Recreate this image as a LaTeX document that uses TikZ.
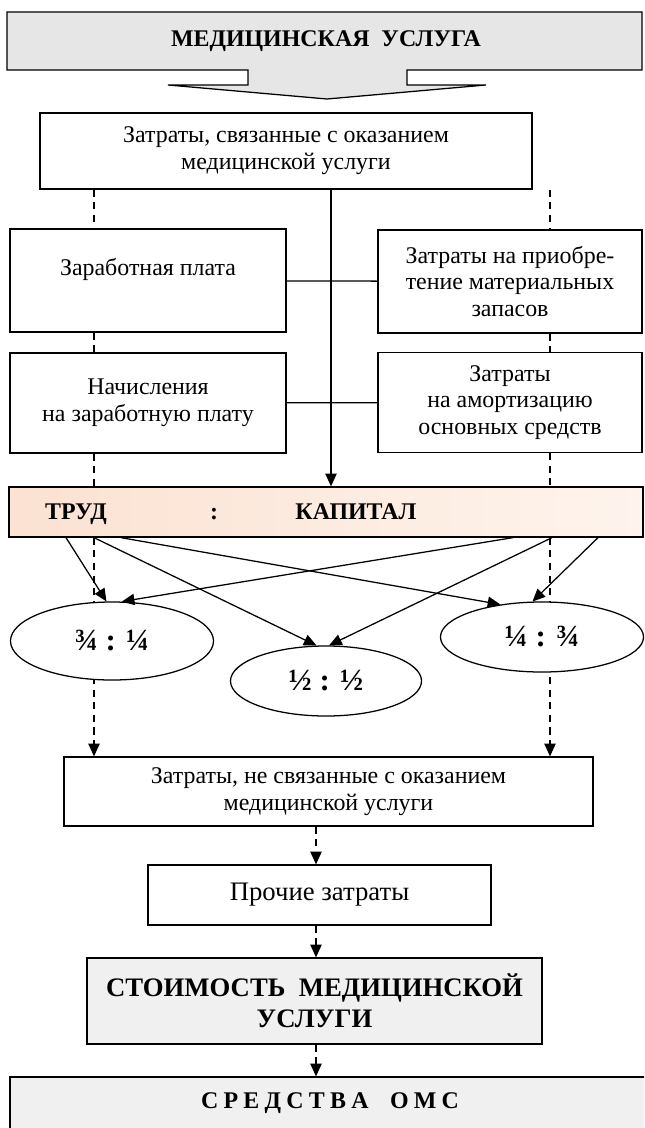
\documentclass[tikz,border=0pt]{standalone}
\usepackage{fontspec}
\setmainfont{Liberation Serif}
\usetikzlibrary{shapes.geometric, arrows.meta}

\definecolor{bannergray}{RGB}{230,230,230}
\definecolor{boxgray}{RGB}{240,240,240}
\definecolor{peachL}{RGB}{251,226,210}
\definecolor{peachR}{RGB}{254,244,237}

\tikzset{
  box/.style={draw, line width=0.9pt, align=center, inner sep=2pt},
  oval/.style={draw, ellipse, fill=white, line width=0.9pt, inner sep=0pt,
    font=\fontsize{22}{24}\selectfont\bfseries},
  link/.style={line width=0.9pt},
  dlink/.style={line width=0.9pt, dash pattern=on 5pt off 4pt},
  head/.style={font=\fontsize{17}{20}\selectfont\bfseries},
}

\begin{document}
\begin{tikzpicture}[x=0.025cm, y=-0.025cm, >={Triangle[length=9pt, width=8pt]},
    font=\fontsize{17}{19}\selectfont]
    \useasboundingbox (0,0) rectangle (644,1128);
    \clip (0,0) rectangle (644,1128);

    % big arrow on top
    \draw[fill=bannergray, line width=0.9pt] (7,12) -- (642,12) -- (642,70) -- (407,70)
        -- (407,85) -- (486,85) -- (327,99) -- (168,85) -- (248,85) -- (248,70)
        -- (7,70) -- cycle;
    \node[head] (usl) at (326,41) {МЕДИЦИНСКАЯ\ \ УСЛУГА};

    % columns of the lines
    \coordinate (dl) at (94,0);
    \coordinate (dr) at (550,0);
    \coordinate (cl) at (331,0);
    \coordinate (cb) at (316,0);
    \foreach \n/\x in {t1/66, t2/94, t3/121, k1/513, k2/552, k3/598}
        \coordinate (\n) at (\x,0);

    \node[box, minimum width=12.3cm, minimum height=1.9cm] (zatr) at (286,151)
        {Затраты, связанные с оказанием\\медицинской услуги};

    \node[box, minimum width=6.9cm, minimum height=2.575cm] (zp) at (148,280.5)
        {Заработная плата\\ \mbox{}};
    \node[box, minimum width=6.6cm, minimum height=2.575cm] (mat) at (510,281.5)
        {Затраты на приобре-\\тение материальных\\запасов};
    \node[box, minimum width=6.9cm, minimum height=2.5cm] (nach) at (148,403)
        {Начисления\\на заработную плату};
    \node[box, minimum width=6.6cm, minimum height=2.5cm] (amort) at (510,402.5)
        {Затраты\\на амортизацию\\основных средств};

    % labour : capital
    \node[draw, line width=0.9pt, left color=peachL, right color=peachR,
        minimum width=15.85cm, minimum height=1.25cm] (bar) at (326,512) {};
    \node[head, anchor=base] (trud) at (76,519) {ТРУД};
    \node[head, anchor=base] (colon) at (214,519) {:};
    \node[head, anchor=base] (kap) at (356,519) {КАПИТАЛ};

    \draw[link] (zp) -- (mat);
    \draw[link] (nach) -- (amort);
    \draw[link, ->] (zatr.south -| cl) -- (bar.north -| cl);

    \draw[dlink] (zatr.south -| dl) -- (zp.north -| dl);
    \draw[dlink] (zp.south -| dl) -- (nach.north -| dl);
    \draw[dlink] (nach.south -| dl) -- (bar.north -| dl);
    \draw[dlink] (zatr.south -| dr) -- (mat.north -| dr);
    \draw[dlink] (mat.south -| dr) -- (amort.north -| dr);
    \draw[dlink] (amort.south -| dr) -- (bar.north -| dr);

    \node[box, minimum width=13.225cm, minimum height=1.725cm] (nezatr) at (328.5,791.5)
        {Затраты, не связанные с оказанием\\медицинской услуги};
    \draw[dlink, ->] (bar.south -| dl) -- (nezatr.north -| dl);
    \draw[dlink, ->] (bar.south -| dr) -- (nezatr.north -| dr);

    % shares
    \node[oval, minimum width=5.075cm, minimum height=1.95cm] (ell1) at (112,641) {¾ : ¼};
    \node[oval, minimum width=4.775cm, minimum height=1.75cm] (ell2) at (326,681) {½ : ½};
    \node[oval, minimum width=5.075cm, minimum height=1.75cm] (ell3) at (542,637) {¼ : ¾};

    \draw[link, ->] (t1 |- bar.south) -- (ell1.98);
    \draw[link, ->] (t2 |- bar.south) -- (ell2.105);
    \draw[link, ->] (t3 |- bar.south) -- (ell3.142);
    \draw[link, ->] (k1 |- bar.south) -- (ell1.76);
    \draw[link, ->] (k2 |- bar.south) -- (ell2.85);
    \draw[link, ->] (k3 |- bar.south) -- (ell3.105);

    \node[box, minimum width=8.575cm, minimum height=1.5cm,
        font=\fontsize{19}{21}\selectfont] (proch) at (319.5,895) {Прочие затраты};
    \node[box, fill=boxgray, minimum width=11.375cm, minimum height=2.15cm,
        font=\fontsize{19}{22}\selectfont\bfseries] (stoim) at (314.5,1001)
        {СТОИМОСТЬ\ \ МЕДИЦИНСКОЙ\\УСЛУГИ};
    \node[box, fill=boxgray, minimum width=16.25cm, minimum height=2cm] (oms) at (335,1117) {};
    \node[head] (omstxt) at (330,1103)
        {\spaceskip=0.22em С Р Е Д С Т В А\hspace{0.9em}О М С};

    \draw[dlink, ->] (nezatr.south -| cb) -- (proch.north -| cb);
    \draw[dlink, ->] (proch.south -| cb) -- (stoim.north -| cb);
    \draw[dlink, ->] (stoim.south -| cb) -- (oms.north -| cb);
\end{tikzpicture}
\end{document}
